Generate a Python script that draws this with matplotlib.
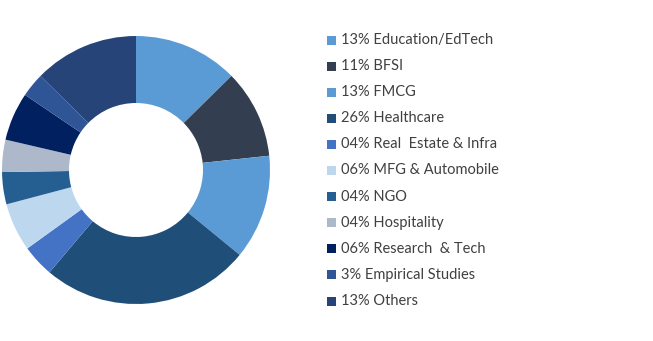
import matplotlib
matplotlib.use("Agg")
import matplotlib.pyplot as plt
from matplotlib.patches import Rectangle

labels = ["13% Education/EdTech", "11% BFSI", "13% FMCG", "26% Healthcare",
          "04% Real  Estate & Infra", "06% MFG & Automobile", "04% NGO",
          "04% Hospitality", "06% Research  & Tech", "3% Empirical Studies",
          "13% Others"]
values = [13, 11, 13, 26, 4, 6, 4, 4, 6, 3, 13]
colors = ["#5B9BD5", "#333F50", "#5B9BD5", "#1F4E79", "#4472C4", "#BDD7EE",
          "#255E91", "#ADB9CA", "#002060", "#2F5597", "#264478"]

W, H = 653, 341
fig = plt.figure(figsize=(W / 100, H / 100), dpi=100)

# donut: center ~ (136, 170) px, radius ~134 px
cx, cy, r = 136, 170, 134
ax = fig.add_axes([(cx - r) / W, (H - cy - r) / H, 2 * r / W, 2 * r / H])
ax.pie(values, colors=colors, startangle=90, counterclock=False,
       radius=1, wedgeprops=dict(width=0.5, edgecolor="none"))
ax.set_xlim(-1, 1)
ax.set_ylim(-1, 1)
ax.set_aspect("equal")
ax.axis("off")

# legend
y0, dy = 40, 26.1
for i, (lab, col) in enumerate(zip(labels, colors)):
    y = y0 + i * dy
    fig.patches.append(Rectangle(((327) / W, (H - y - 4.5) / H), 9 / W, 9 / H,
                                 transform=fig.transFigure, facecolor=col,
                                 edgecolor="none"))
    fig.text(341 / W, (H - y) / H, lab, fontsize=10.5, family="Lato",
             color="#404040", va="center", ha="left")

fig.savefig("out.png", dpi=100, facecolor="white")
